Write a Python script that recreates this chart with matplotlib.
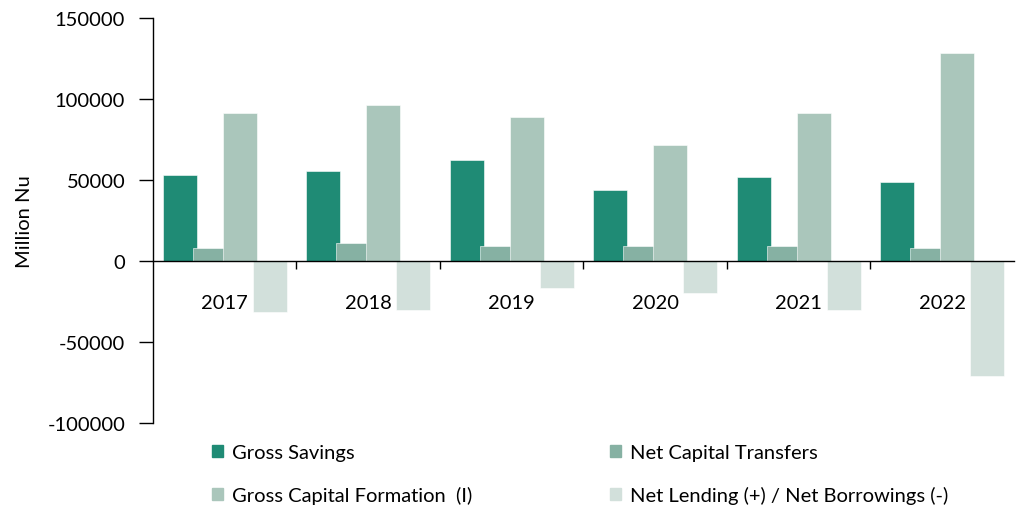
import numpy as np
import matplotlib.pyplot as plt
from matplotlib.patches import Patch

plt.rcParams["font.family"] = ["Lato", "DejaVu Sans"]
plt.rcParams["axes.unicode_minus"] = False

years = ["2017", "2018", "2019", "2020", "2021", "2022"]
gross_savings = [53000, 55600, 62200, 43600, 51700, 49000]
net_capital_transfers = [8000, 10900, 9500, 9300, 9300, 7800]
gross_capital_formation = [91300, 96500, 88700, 71400, 91200, 128200]
net_lending = [-31300, -30000, -16900, -19500, -30200, -71000]

series = [
    ("Gross Savings", gross_savings, "#1f8b75"),
    ("Net Capital Transfers", net_capital_transfers, "#86b1a3"),
    ("Gross Capital Formation  (I)", gross_capital_formation, "#aac6bb"),
    ("Net Lending (+) / Net Borrowings (-)", net_lending, "#d2e0db"),
]

fig = plt.figure(figsize=(10.17, 5.10), dpi=100)
ax = fig.add_axes([0.1504, 0.1686, 0.8466, 0.794])

x = np.arange(len(years))
step = 0.209
width = 0.237
for i, (name, vals, color) in enumerate(series):
    ax.bar(x + (i - 1.5) * step, vals, width=width, color=color,
           edgecolor="white", linewidth=0.4, label=name)

ax.set_xlim(-0.5, len(years) - 0.5)
ax.set_ylim(-100000, 150000)
ax.set_yticks(np.arange(-100000, 150001, 50000))
ax.tick_params(axis="y", labelsize=14.5, length=10, width=1, pad=10)
ax.set_ylabel("Million Nu", fontsize=14.5, labelpad=10)

ax.spines["top"].set_visible(False)
ax.spines["right"].set_visible(False)
ax.spines["bottom"].set_position(("data", 0))
ax.spines["left"].set_linewidth(1)
ax.spines["bottom"].set_linewidth(1)

ax.set_xticks(x)
ax.set_xticklabels(years)
ax.set_xticks(np.arange(0.5, len(years) - 0.5, 1.0), minor=True)
ax.tick_params(axis="x", which="major", length=0, labelsize=14.5, pad=24)
ax.tick_params(axis="x", which="minor", length=6, width=1, direction="out")

handles = [Patch(color=c) for _, _, c in series]
labels = [n for n, _, _ in series]
order = [0, 2, 1, 3]
fig.legend([handles[i] for i in order], [labels[i] for i in order],
           ncol=2, loc="upper left", bbox_to_anchor=(0.208, 0.128),
           frameon=False, fontsize=14.5, handlelength=0.55, handleheight=0.55,
           handletextpad=0.45, columnspacing=6.85, labelspacing=1.25,
           borderaxespad=0, borderpad=0)

fig.savefig("out.png", dpi=100)
